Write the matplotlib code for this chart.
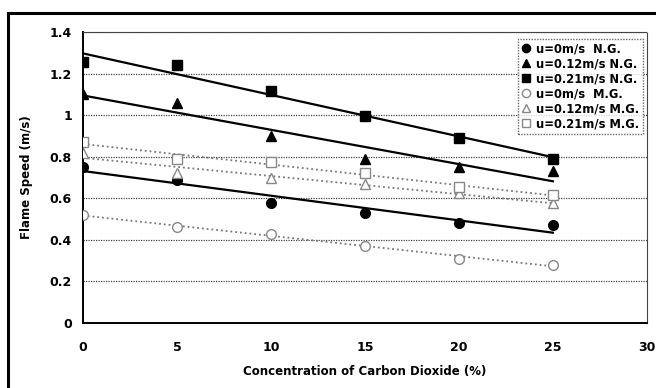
import numpy as np
import matplotlib
matplotlib.use("Agg")
import matplotlib.pyplot as plt
from matplotlib.patches import Rectangle

# CO2 concentration (%)
co2 = [0, 5, 10, 15, 20, 25]

# flame speeds (m/s)
ng_u0 = [0.75, 0.69, 0.577, 0.53, 0.48, 0.47]
ng_u012 = [1.10, 1.06, 0.90, 0.79, 0.75, 0.73]
ng_u021 = [1.255, 1.24, 1.115, 0.995, 0.89, 0.79]
mg_u0 = [0.52, 0.46, 0.43, 0.37, 0.31, 0.28]
mg_u012 = [0.82, 0.72, 0.70, 0.67, 0.625, 0.577]
mg_u021 = [0.87, 0.79, 0.775, 0.72, 0.655, 0.615]

labels = [
    "u=0m/s  N.G.",
    "u=0.12m/s N.G.",
    "u=0.21m/s N.G.",
    "u=0m/s  M.G.",
    "u=0.12m/s M.G.",
    "u=0.21m/s M.G.",
]

x_ticks = [0, 5, 10, 15, 20, 25, 30]
y_ticks = [0, 0.2, 0.4, 0.6, 0.8, 1.0, 1.2, 1.4]
y_tick_labels = ["0", "0.2", "0.4", "0.6", "0.8", "1", "1.2", "1.4"]

fig = plt.figure(figsize=(6.56, 3.88), dpi=100)
ax = fig.add_axes([0.1265, 0.1675, 0.8595, 0.75])

# outer frame of the scanned figure
fig.patches.append(Rectangle((8 / 656, -0.05), 1.1, 1 - 13 / 388 + 0.05,
                             transform=fig.transFigure, fill=False,
                             edgecolor="black", lw=2.2, clip_on=False))

x = np.array(co2, dtype=float)
xf = np.array([0, 25], dtype=float)

series = [
    (ng_u0, "o", "black", "black", "-"),
    (ng_u012, "^", "black", "black", "-"),
    (ng_u021, "s", "black", "black", "-"),
    (mg_u0, "o", "white", "#888888", ":"),
    (mg_u012, "^", "white", "#888888", ":"),
    (mg_u021, "s", "white", "#888888", ":"),
]

handles = []
for (y, m, fc, ec, ls), lab in zip(series, labels):
    k, b = np.polyfit(x, y, 1)
    if ls == "-":
        ax.plot(xf, k * xf + b, color="black", lw=1.6, zorder=3)
    else:
        ax.plot(xf, k * xf + b, color="#777777", lw=1.3, ls=":", zorder=3)
    h, = ax.plot(x, y, ls="none", marker=m, ms=7, mfc=fc, mec=ec,
                 mew=1.0, zorder=4, label=lab)
    handles.append(h)

ax.set_xlim(0, 30)
ax.set_ylim(0, 1.4)
ax.set_xticks(x_ticks)
ax.set_yticks(y_ticks)
ax.set_yticklabels(y_tick_labels)
ax.tick_params(axis="y", labelsize=9, length=0, pad=8)
ax.tick_params(axis="x", labelsize=9, length=0, pad=13)
for t in ax.get_xticklabels() + ax.get_yticklabels():
    t.set_fontweight("bold")

ax.yaxis.grid(True, color="#444444", ls=(0, (1, 1)), lw=0.9)
ax.set_axisbelow(True)
for s in ["top", "right"]:
    ax.spines[s].set_linestyle((0, (1, 1)))
    ax.spines[s].set_color("#444444")
ax.spines["left"].set_linewidth(1.4)
ax.spines["bottom"].set_linestyle((0, (1, 1)))
ax.spines["bottom"].set_linewidth(1.4)

ax.set_xlabel("Concentration of Carbon Dioxide (%)", fontsize=8.5,
              fontweight="bold", labelpad=8)
ax.set_ylabel("Flame Speed (m/s)", fontsize=8.5, fontweight="bold",
              labelpad=12)

leg = ax.legend(handles=handles, loc="upper right",
                prop={"weight": "bold", "size": 8.3}, frameon=True,
                fancybox=False, borderpad=0.3, labelspacing=0.18,
                handlelength=0.8, handletextpad=0.45, markerscale=0.85,
                borderaxespad=0.2, bbox_to_anchor=(0.997, 0.985))
leg.get_frame().set_edgecolor("#444444")
leg.get_frame().set_linestyle((0, (1, 1)))
leg.get_frame().set_linewidth(1.0)

fig.savefig("out.png", dpi=100)
